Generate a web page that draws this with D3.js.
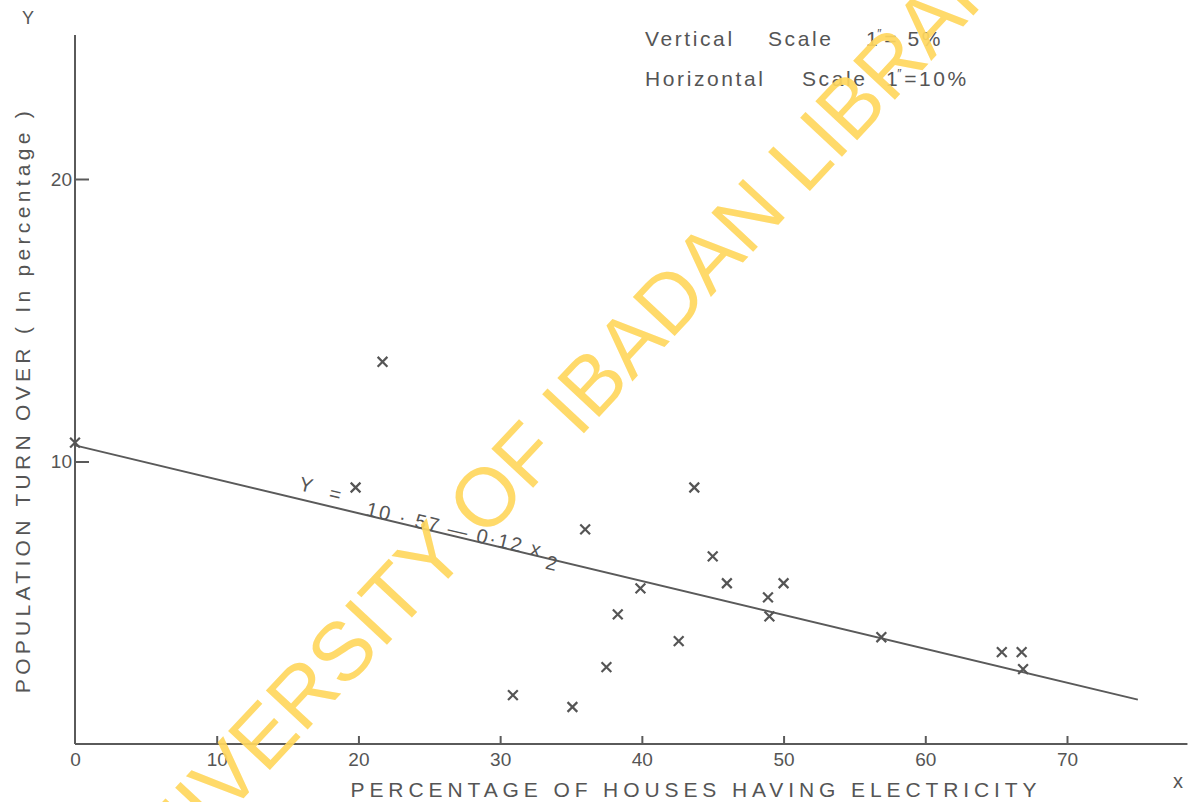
<!DOCTYPE html>
<html>
<head>
<meta charset="utf-8">
<script src="https://cdn.jsdelivr.net/npm/d3@7"></script>
<style>
  html, body { margin: 0; padding: 0; background: #ffffff; }
  svg { display: block; }
  text { font-family: "Liberation Sans", Arial, sans-serif; fill: #555; }
</style>
</head>
<body>
<script>
// Percentage of houses having electricity (x) vs population turnover % (y)
const electricity = [0, 21.7, 19.8, 36.0, 43.7, 45.0, 46.0, 50.0, 48.9, 49.0,
                     39.9, 38.3, 42.6, 37.5, 30.9, 35.1, 56.9, 65.4, 66.8, 66.9];
const turnover    = [10.67, 13.53, 9.08, 7.60, 9.08, 6.64, 5.69, 5.69, 5.19, 4.52,
                     5.51, 4.59, 3.64, 2.72, 1.73, 1.31, 3.78, 3.25, 3.25, 2.65];

// Fitted regression Y = 10.57 - 0.12 X
const intercept = 10.57;
const slope = -0.12;
const fitRange = [0, 75];

const xTicks = [0, 10, 20, 30, 40, 50, 60, 70];
const yTicks = [10, 20];

const W = 1199, H = 802;
const ink = "#5a5a5a";

const svg = d3.select("body").append("svg").attr("width", W).attr("height", H);

const x = d3.scaleLinear().domain([0, 70]).range([75, 1067]);
const y = d3.scaleLinear().domain([0, 20]).range([744, 179]);

const xAxisEnd = 78.5, yAxisEnd = 25.1;

// axis lines
svg.append("line")
  .attr("x1", x(0)).attr("x2", x(xAxisEnd))
  .attr("y1", y(0)).attr("y2", y(0))
  .attr("stroke", ink).attr("stroke-width", 2);
svg.append("line")
  .attr("x1", x(0)).attr("x2", x(0))
  .attr("y1", y(0)).attr("y2", y(yAxisEnd))
  .attr("stroke", ink).attr("stroke-width", 2);

// x axis ticks & labels
const gx = svg.append("g").attr("transform", `translate(0,${y(0)})`)
  .call(d3.axisBottom(x).tickValues(xTicks).tickSize(-8).tickPadding(16).tickFormat(d3.format("d")));
gx.select(".domain").remove();
gx.selectAll(".tick line").attr("stroke", ink).attr("stroke-width", 2)
  .attr("display", d => d === 0 ? "none" : null);
gx.selectAll(".tick text").attr("font-size", 19).attr("fill", "#555")
  .attr("font-family", "Liberation Sans, Arial, sans-serif").attr("dy", "0.72em").attr("y", 8);

// y axis ticks & labels
const gy = svg.append("g").attr("transform", `translate(${x(0)},0)`)
  .call(d3.axisLeft(y).tickValues(yTicks).tickSize(-14).tickPadding(4).tickFormat(d3.format("d")));
gy.select(".domain").remove();
gy.selectAll(".tick line").attr("stroke", ink).attr("stroke-width", 2);
gy.selectAll(".tick text").attr("font-size", 19).attr("fill", "#555")
  .attr("font-family", "Liberation Sans, Arial, sans-serif").attr("x", -3);

// regression line
svg.append("line")
  .attr("x1", x(fitRange[0])).attr("y1", y(intercept + slope * fitRange[0]))
  .attr("x2", x(fitRange[1])).attr("y2", y(intercept + slope * fitRange[1]))
  .attr("stroke", ink).attr("stroke-width", 2);

// equation label along the line
const ang = Math.atan2(y(intercept + slope * 10) - y(intercept), x(10) - x(0)) * 180 / Math.PI;
const eq = svg.append("text")
  .attr("transform", `translate(298,490) rotate(${ang})`)
  .attr("font-size", 20).attr("letter-spacing", 2);
eq.append("tspan").text("Y");
eq.append("tspan").attr("dx", 16).attr("dy", 2).text("=");
eq.append("tspan").attr("dx", 26).attr("dy", 7).text("10 · 57  —  0·12 x");
eq.append("tspan").attr("dx", 6).attr("dy", 10).text("2");

// data points as crosses
const cross = d3.symbol().type(d3.symbolX).size(64);
svg.append("g").selectAll("path")
  .data(electricity.map((e, i) => [e, turnover[i]]))
  .join("path")
  .attr("d", cross)
  .attr("transform", d => `translate(${x(d[0])},${y(d[1])})`)
  .attr("fill", "none").attr("stroke", "#555").attr("stroke-width", 2.2);

// axis titles
svg.append("text")
  .attr("transform", "translate(30,400) rotate(-90)")
  .attr("text-anchor", "middle").attr("font-size", 21).attr("letter-spacing", 4.3)
  .text("POPULATION  TURN OVER ( In percentage )");

svg.append("text")
  .attr("x", 696).attr("y", 797).attr("text-anchor", "middle")
  .attr("font-size", 21).attr("letter-spacing", 4.9)
  .text("PERCENTAGE  OF  HOUSES  HAVING  ELECTRICITY");

svg.append("text").attr("x", 28).attr("y", 24).attr("text-anchor", "middle")
  .attr("font-size", 18).text("Y");
svg.append("text").attr("x", 1178).attr("y", 788).attr("text-anchor", "middle")
  .attr("font-size", 20).text("x");

// scale notes
function scaleNote(yPos, words, xs, value) {
  const t = svg.append("text").attr("y", yPos).attr("font-size", 21).attr("letter-spacing", 2.6);
  t.append("tspan").attr("x", xs[0]).text(words[0]);
  t.append("tspan").attr("x", xs[1]).text(words[1]);
  t.append("tspan").attr("x", xs[2]).text("1");
  t.append("tspan").attr("font-size", 12).attr("dy", -8).attr("dx", -3).text("\u2033");
  t.append("tspan").attr("dy", 8).text(value);
}
scaleNote(46, ["Vertical", "Scale"], [645, 768, 866], "= 5%");
scaleNote(86, ["Horizontal", "Scale"], [645, 802, 886], "=10%");

// library watermark
svg.append("text")
  .attr("transform", "translate(130,920) rotate(-47)")
  .attr("font-size", 83)
  .style("fill", "#ffd75e").attr("opacity", 0.92)
  .text("UNIVERSITY OF IBADAN LIBRARY");
</script>
</body>
</html>
